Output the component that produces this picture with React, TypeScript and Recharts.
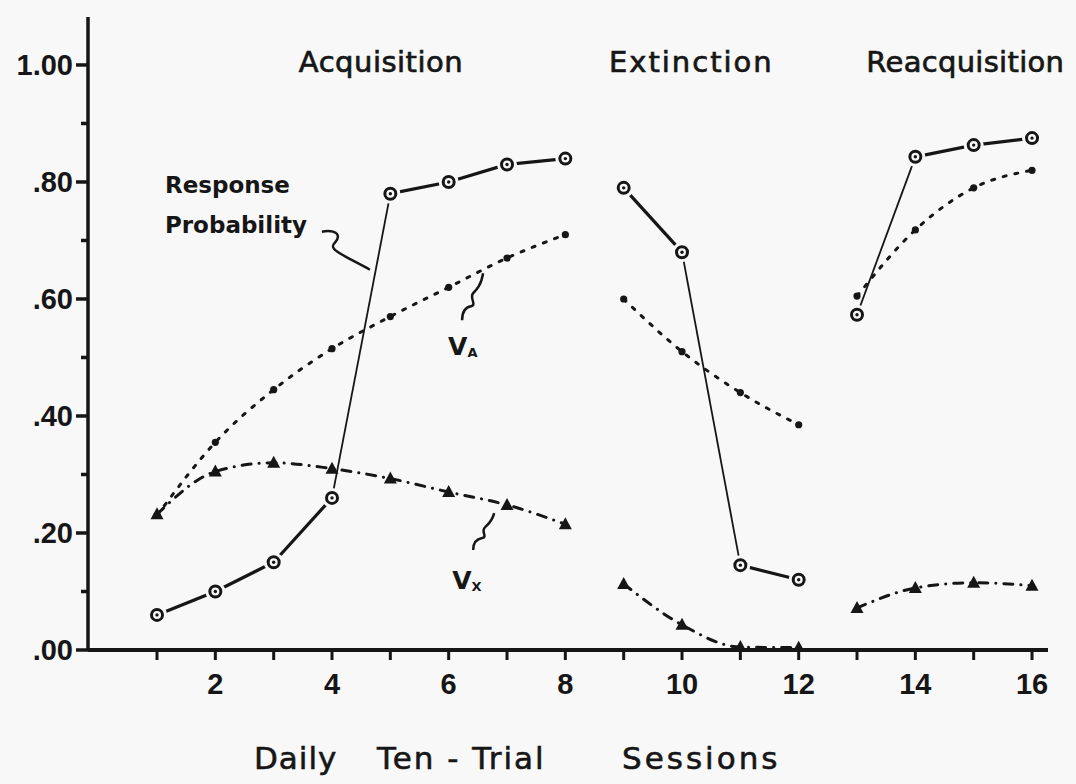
import React from "react";
import { LineChart, Line, XAxis, YAxis, ReferenceDot } from "recharts";

// sessions per phase
const acqSessions = [1, 2, 3, 4, 5, 6, 7, 8];
const extSessions = [9, 10, 11, 12];
const reacqSessions = [13, 14, 15, 16];

// response probability (open circles)
const rpAcq = [0.06, 0.1, 0.15, 0.26, 0.78, 0.8, 0.83, 0.84];
const rpExt = [0.79, 0.68, 0.145, 0.12];
const rpReacq = [0.573, 0.843, 0.863, 0.875];

// V_A (dotted, small dots)
const vaAcq = [0.23, 0.355, 0.445, 0.515, 0.57, 0.62, 0.67, 0.71];
const vaExt = [0.6, 0.51, 0.44, 0.385];
const vaReacq = [0.605, 0.718, 0.79, 0.82];

// V_X (dash-dot, triangles)
const vxAcq = [0.232, 0.305, 0.32, 0.31, 0.293, 0.27, 0.248, 0.215];
const vxExt = [0.113, 0.043, 0.005, 0.004];
const vxReacq = [0.072, 0.106, 0.115, 0.11];

// index where the steep jump of response probability starts in each phase
const rpJumps = [3, 1, 0];

const xTicks = [1, 2, 3, 4, 5, 6, 7, 8, 9, 10, 11, 12, 13, 14, 15, 16];
const xLabeled = [2, 4, 6, 8, 10, 12, 14, 16];
const yMajorTicks = [0, 0.2, 0.4, 0.6, 0.8, 1.0];
const yMajorLabels = [".00", ".20", ".40", ".60", ".80", "1.00"];
const yMinorTicks = [0.1, 0.3, 0.5, 0.7, 0.9];

const INK = "#161616";
const BG = "#f8f8f8";
const TICK_FONT = "'Liberation Sans', Arial, sans-serif";
const LETTER_FONT = "'DejaVu Sans', Verdana, sans-serif";

const phases = [
  { s: acqSessions, rp: rpAcq, va: vaAcq, vx: vxAcq },
  { s: extSessions, rp: rpExt, va: vaExt, vx: vxExt },
  { s: reacqSessions, rp: rpReacq, va: vaReacq, vx: vxReacq },
].map((p, k) => ({
  rows: p.s.map((s, i) => ({ s, rp: p.rp[i], va: p.va[i], vx: p.vx[i] })),
  jump: rpJumps[k],
}));

const YTick = (props: any) => {
  const { x, y, payload } = props;
  const i = yMajorTicks.findIndex((t) => Math.abs(t - payload.value) < 1e-6);
  const major = i >= 0;
  return (
    <g>
      <line x1={x} x2={x - (major ? 12 : 7)} y1={y} y2={y} stroke={INK} strokeWidth={3.5} />
      {major && (
        <text x={x - 15} y={y} dy={10} textAnchor="end" fontFamily={TICK_FONT} fontWeight="bold" fontSize={29} fill={INK}>
          {yMajorLabels[i]}
        </text>
      )}
    </g>
  );
};

const XTick = (props: any) => {
  const { x, y, payload } = props;
  const labeled = xLabeled.includes(payload.value);
  return (
    <g>
      <line x1={x} x2={x} y1={y} y2={y + 10} stroke={INK} strokeWidth={3} />
      {labeled && (
        <text x={x} y={y + 44} textAnchor="middle" fontFamily={TICK_FONT} fontWeight="bold" fontSize={29} fill={INK}>
          {payload.value}
        </text>
      )}
    </g>
  );
};

const AxisTitle = (props: any) => {
  const vb = props.viewBox || { x: 88, y: 650 };
  const y = vb.y + 119;
  const common = { fontFamily: LETTER_FONT, fontSize: 31, fill: INK, stroke: INK, strokeWidth: 0.6, y };
  return (
    <g>
      <text {...common} x={vb.x + 166} letterSpacing={1}>Daily</text>
      <text {...common} x={vb.x + 289} letterSpacing={2}>Ten - Trial</text>
      <text {...common} x={vb.x + 534} letterSpacing={3}>Sessions</text>
    </g>
  );
};

const ringDot = (p: any) => (
  <g key={`ring-${p.index}`}>
    <circle cx={p.cx} cy={p.cy} r={10} fill={BG} />
    <circle cx={p.cx} cy={p.cy} r={5.5} fill={BG} stroke={INK} strokeWidth={3} />
    <circle cx={p.cx} cy={p.cy} r={1.7} fill={INK} />
  </g>
);

const smallDot = (p: any) => <circle key={`dot-${p.index}`} cx={p.cx} cy={p.cy} r={3.6} fill={INK} />;

const triDot = (p: any) => (
  <polygon
    key={`tri-${p.index}`}
    points={`${p.cx},${p.cy - 7} ${p.cx - 6.5},${p.cy + 5} ${p.cx + 6.5},${p.cy + 5}`}
    fill={INK}
  />
);

const phaseTitles = [
  { text: "Acquisition", s: 4.84, anchor: "middle", spacing: 0.5 },
  { text: "Extinction", s: 10.16, anchor: "middle", spacing: 2 },
  { text: "Reacquisition", s: 13.16, anchor: "start", spacing: 0.3 },
];

const titleShape = (t: (typeof phaseTitles)[number]) => (p: any) => (
  <text
    x={p.cx}
    y={p.cy}
    textAnchor={t.anchor as any}
    fontFamily={LETTER_FONT}
    fontSize={29}
    letterSpacing={t.spacing}
    fill={INK}
    stroke={INK}
    strokeWidth={0.7}
  >
    {t.text}
  </text>
);

const rpNote = (p: any) => (
  <g>
    <text x={p.cx - 205} y={p.cy - 77} fontFamily={LETTER_FONT} fontWeight="bold" fontSize={23} fill={INK}>
      Response
    </text>
    <text x={p.cx - 205} y={p.cy - 37} fontFamily={LETTER_FONT} fontWeight="bold" fontSize={23} fill={INK}>
      Probability
    </text>
    <path
      transform={`translate(${p.cx},${p.cy})`}
      d="M -48 -38 C -40 -40, -32 -38, -32 -33 C -32 -27, -40 -26, -36 -21 C -32 -16, -18 -10, 0 0"
      fill="none"
      stroke={INK}
      strokeWidth={2.5}
    />
  </g>
);

const vNote = (sub: string, dx: number, dy: number, d: string) => (p: any) => (
  <g>
    <text x={p.cx + dx} y={p.cy + dy} fontFamily={LETTER_FONT} fontWeight="bold" fontSize={25} fill={INK}>
      V
      <tspan fontSize={13} dy={2}>
        {sub}
      </tspan>
    </text>
    <path transform={`translate(${p.cx},${p.cy})`} d={d} fill="none" stroke={INK} strokeWidth={2.5} />
  </g>
);

export default function App() {
  return (
    <div style={{ position: "absolute", left: 0, top: 0, width: 1076, height: 784, background: BG, overflow: "hidden" }}>
      <LineChart width={1076} height={784} margin={{ top: 17, right: 28, bottom: 74, left: 8 }}>
        <XAxis
          type="number"
          dataKey="s"
          domain={[-0.183, 16.274]}
          allowDataOverflow
          ticks={xTicks}
          interval={0}
          tickSize={0}
          tickMargin={0}
          tickLine={false}
          tick={<XTick />}
          axisLine={{ stroke: INK, strokeWidth: 4 }}
          height={60}
          label={<AxisTitle />}
        />
        <YAxis
          type="number"
          domain={[0, 1.082]}
          allowDataOverflow
          ticks={[...yMajorTicks, ...yMinorTicks].sort((a, b) => a - b)}
          interval={0}
          tickSize={0}
          tickMargin={0}
          tickLine={false}
          tick={<YTick />}
          axisLine={{ stroke: INK, strokeWidth: 3.5 }}
          width={80}
        />

        {phases.map((ph, k) => (
          <Line
            key={`va-${k}`}
            data={ph.rows}
            dataKey="va"
            type="monotone"
            stroke={INK}
            strokeWidth={3}
            strokeDasharray="3 9"
            strokeLinecap="round"
            dot={smallDot}
            activeDot={false}
            isAnimationActive={false}
          />
        ))}
        {phases.map((ph, k) => (
          <Line
            key={`vx-${k}`}
            data={ph.rows}
            dataKey="vx"
            type="monotone"
            stroke={INK}
            strokeWidth={3}
            strokeDasharray="9 8 0.1 8"
            strokeLinecap="round"
            dot={triDot}
            activeDot={false}
            isAnimationActive={false}
          />
        ))}
        {phases.flatMap((ph, k) => [
          <Line
            key={`rp-a-${k}`}
            data={ph.rows.slice(0, ph.jump + 1)}
            dataKey="rp"
            type="linear"
            stroke={INK}
            strokeWidth={3.2}
            dot={false}
            activeDot={false}
            isAnimationActive={false}
          />,
          <Line
            key={`rp-b-${k}`}
            data={ph.rows.slice(ph.jump + 1)}
            dataKey="rp"
            type="linear"
            stroke={INK}
            strokeWidth={3.2}
            dot={false}
            activeDot={false}
            isAnimationActive={false}
          />,
          <Line
            key={`rp-j-${k}`}
            data={ph.rows.slice(ph.jump, ph.jump + 2)}
            dataKey="rp"
            type="linear"
            stroke={INK}
            strokeWidth={1.8}
            dot={false}
            activeDot={false}
            isAnimationActive={false}
          />,
        ])}
        {phases.map((ph, k) => (
          <Line
            key={`rp-dots-${k}`}
            data={ph.rows}
            dataKey="rp"
            stroke="none"
            dot={ringDot}
            activeDot={false}
            isAnimationActive={false}
          />
        ))}

        {phaseTitles.map((t) => (
          <ReferenceDot key={t.text} x={t.s} y={0.988} r={0} ifOverflow="visible" shape={titleShape(t)} />
        ))}
        <ReferenceDot x={4.65} y={0.65} r={0} ifOverflow="visible" shape={rpNote} />
        <ReferenceDot
          x={6.59}
          y={0.644}
          r={0}
          ifOverflow="visible"
          shape={vNote("A", -35, 82, "M -21 47 C -21 38, -18 34, -12 33 C -6 32, -14 24, -10 20 C -6 16, -2 12, 0 0")}
        />
        <ReferenceDot
          x={6.78}
          y={0.234}
          r={0}
          ifOverflow="visible"
          shape={vNote("X", -42, 76, "M -21 37 C -21 30, -18 26, -12 25 C -6 24, -14 18, -9 14 C -5 10, -2 8, 0 0")}
        />
      </LineChart>
    </div>
  );
}
